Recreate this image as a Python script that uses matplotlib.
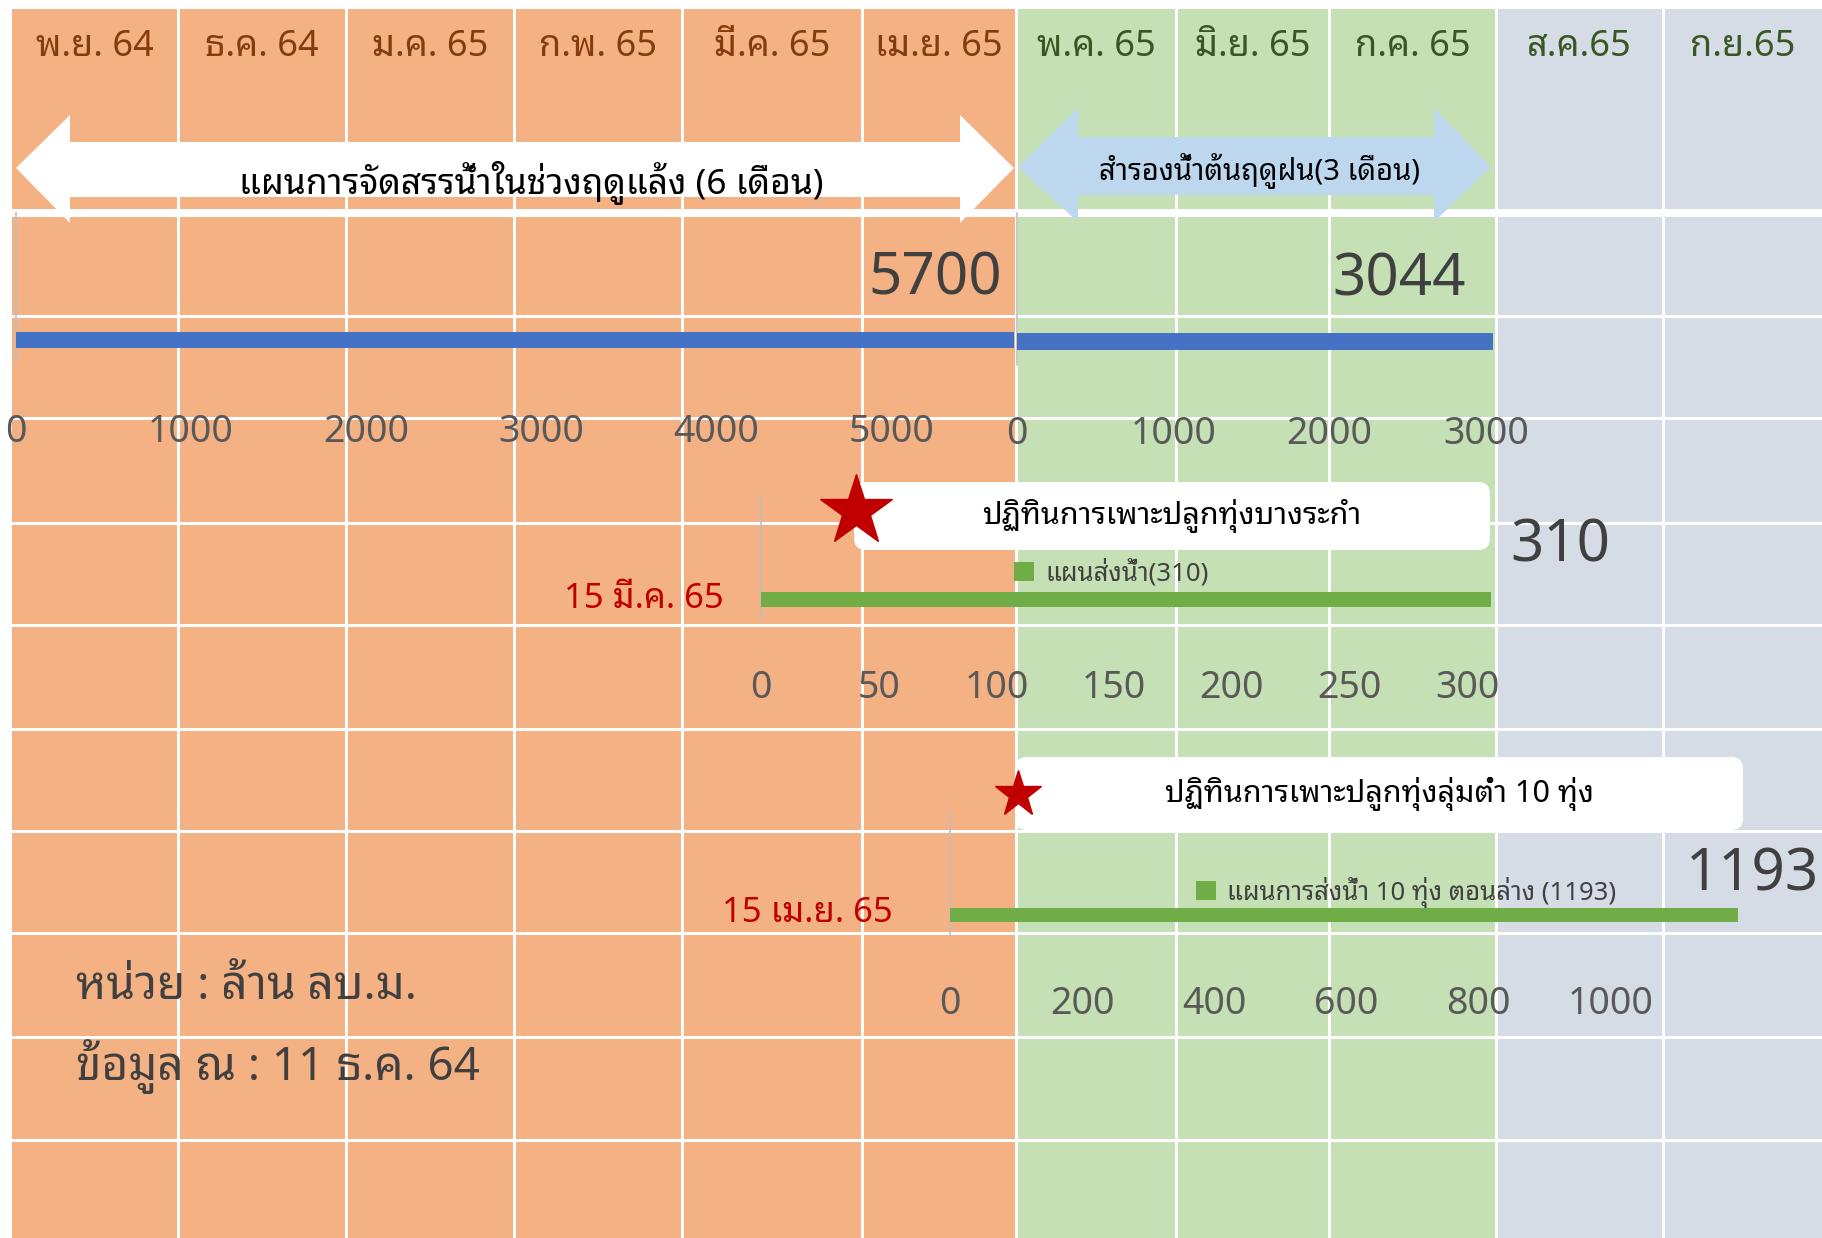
import matplotlib
matplotlib.use('Agg')
import matplotlib.pyplot as plt
from matplotlib import font_manager as fm
from matplotlib.ft2font import FT2Font
from matplotlib.patches import Rectangle, Polygon, FancyBboxPatch

# ---- data ----
months = ['พ.ย. 64', 'ธ.ค. 64', 'ม.ค. 65', 'ก.พ. 65', 'มี.ค. 65', 'เม.ย. 65',
          'พ.ค. 65', 'มิ.ย. 65', 'ก.ค. 65', 'ส.ค.65', 'ก.ย.65']
season = ['dry'] * 6 + ['wet'] * 3 + ['late'] * 2

dry_plan = 5700          # แผนการจัดสรรน้ำฤดูแล้ง
wet_reserve = 3044       # สำรองน้ำต้นฤดูฝน
bangrakam_plan = 310     # ทุ่งบางระกำ
lowland_plan = 1193      # 10 ทุ่ง ตอนล่าง

dry_ticks = [0, 1000, 2000, 3000, 4000, 5000]
wet_ticks = [0, 1000, 2000, 3000]
bangrakam_ticks = [0, 50, 100, 150, 200, 250, 300]
lowland_ticks = [0, 200, 400, 600, 800, 1000]

bangrakam_start = '15 มี.ค. 65'
lowland_start = '15 เม.ย. 65'
bangrakam_legend = 'แผนส่งน้ำ(310)'
lowland_legend = 'แผนการส่งน้ำ 10 ทุ่ง ตอนล่าง (1193)'


def pick_thai_font():
    names = set()
    for entry in fm.fontManager.ttflist:
        try:
            if 0x0E01 in FT2Font(entry.fname).get_charmap():
                names.add(entry.name)
        except Exception:
            pass
    for pref in ['Noto Sans Thai Looped', 'Noto Sans Thai', 'Noto Sans Thai UI',
                 'Loma', 'Garuda', 'Sawasdee', 'Laksaman', 'Tlwg Typo']:
        if pref in names:
            return pref
    return sorted(names)[0] if names else 'DejaVu Sans'


THAI = pick_thai_font()
FAM = [THAI, 'DejaVu Sans']
plt.rcParams['font.family'] = FAM

W, H = 1822, 1238
PX = 0.72  # points per pixel at dpi 100

fig = plt.figure(figsize=(W / 100, H / 100), dpi=100)
base = fig.add_axes([0, 0, 1, 1])
base.set_xlim(0, W)
base.set_ylim(H, 0)
base.axis('off')

# month columns
col_edges = [12, 178, 346, 514, 682, 862, 1016, 1176, 1329, 1496, 1663, 1822]
fills = {'dry': '#F4B183', 'wet': '#C5E0B4', 'late': '#D6DCE5'}
text_cols = {'dry': '#843C0C', 'wet': '#385723', 'late': '#385723'}
for i, m in enumerate(months):
    x0, x1 = col_edges[i], col_edges[i + 1]
    base.add_patch(Rectangle((x0, 9), x1 - x0, H - 9, fc=fills[season[i]], ec='none', zorder=0))
    base.text((x0 + x1) / 2, 47, m, ha='center', va='center', fontsize=26,
              color=text_cols[season[i]], zorder=3)

for x in col_edges[1:-1]:
    base.plot([x, x], [9, H], color='white', lw=3 * PX, zorder=1)
for y in [316, 418, 523, 625, 729, 831, 933, 1037, 1140]:
    base.plot([12, W], [y, y], color='white', lw=3 * PX, zorder=1)
base.plot([12, W], [213, 213], color='white', lw=8 * PX, zorder=1)

# season arrows
base.add_patch(Polygon([(16, 168), (70, 115), (70, 142), (960, 142), (960, 115), (1014, 168),
                        (960, 223), (960, 197), (70, 197), (70, 223)],
                       closed=True, fc='white', ec='none', zorder=2))
base.text(531, 183, 'แผนการจัดสรรน้ำในช่วงฤดูแล้ง (6 เดือน)', ha='center', va='center',
          fontsize=25.5, color='black', zorder=3)
base.add_patch(Polygon([(1018, 167), (1078, 108), (1078, 137), (1434, 137), (1434, 108), (1491, 167),
                        (1434, 222), (1434, 195), (1078, 195), (1078, 222)],
                       closed=True, fc='#BDD7EE', ec='none', zorder=2))
base.text(1260, 171, 'สำรองน้ำต้นฤดูฝน(3 เดือน)', ha='center', va='center',
          fontsize=21, color='black', zorder=3)

# calendar banners
for (x0, y0, x1, y1), label, star, ms in [
        ((854, 482, 1490, 550), 'ปฏิทินการเพาะปลูกทุ่งบางระกำ', (856, 511), 54),
        ((1015, 757, 1743, 830), 'ปฏิทินการเพาะปลูกทุ่งลุ่มต่ำ 10 ทุ่ง', (1018, 794), 35)]:
    r = 12
    base.add_patch(FancyBboxPatch((x0 + r, y0 + r), x1 - x0 - 2 * r, y1 - y0 - 2 * r,
                                  boxstyle='round,pad=%d' % r, fc='white', ec='none', zorder=4))
    base.text((x0 + x1) / 2, (y0 + y1) / 2, label, ha='center', va='center',
              fontsize=22, color='black', zorder=5)
    base.plot(*star, marker='*', ms=ms, color='#C00000', mec='#C00000', zorder=6)

base.text(76, 987, 'หน่วย : ล้าน ลบ.ม.', ha='left', va='center', fontsize=33, color='#404040')
base.text(76, 1067, 'ข้อมูล ณ : 11 ธ.ค. 64', ha='left', va='center', fontsize=33, color='#404040')


def bar_axes(left, right, top, bottom, value, ticks, bar_y, bar_h, color):
    ax = fig.add_axes([left / W, 1 - bottom / H, (right - left) / W, (bottom - top) / H])
    ax.set_xlim(0, value)
    ax.set_ylim(0, bottom - top)
    ax.patch.set_alpha(0)
    bars = ax.barh(bar_y, value, height=bar_h, color=color, zorder=3)
    for s in ['top', 'right', 'bottom']:
        ax.spines[s].set_visible(False)
    ax.spines['left'].set_color('#BFBFBF')
    ax.spines['left'].set_linewidth(1.2)
    ax.set_yticks([])
    ax.set_xticks(ticks)
    ax.set_xticklabels([str(t) for t in ticks])
    ax.tick_params(axis='x', length=0, pad=36, labelsize=27, labelcolor='#595959')
    for lab in ax.get_xticklabels():
        lab.set_clip_on(False)
    return ax, bars


def legend_for(ax, bars, label, anchor):
    ax.legend([bars], [label], loc='center left', bbox_to_anchor=anchor,
              bbox_transform=base.transData, frameon=False, fontsize=18.5, borderpad=0,
              borderaxespad=0, handlelength=0.78, handleheight=0.78, handletextpad=0.43,
              labelcolor='#404040')


ax1, _ = bar_axes(16, 1014, 213, 363, dry_plan, dry_ticks, 23, 16, '#4472C4')
ax1.annotate(str(dry_plan), xy=(dry_plan, 23), xytext=(-12 * PX, 61 * PX),
             textcoords='offset points', ha='right', va='center', fontsize=42, color='#404040')

ax2, _ = bar_axes(1017, 1493, 213, 365, wet_reserve, wet_ticks, 23.5, 17, '#4472C4')
ax2.annotate(str(wet_reserve), xy=(wet_reserve, 23.5), xytext=(-27 * PX, 62 * PX),
             textcoords='offset points', ha='right', va='center', fontsize=42, color='#404040')

ax3, b3 = bar_axes(761, 1491, 497, 619, bangrakam_plan, bangrakam_ticks, 19.5, 15, '#70AD47')
ax3.annotate(str(bangrakam_plan), xy=(bangrakam_plan, 19.5), xytext=(19 * PX, 53 * PX),
             textcoords='offset points', ha='left', va='center', fontsize=42, color='#404040')
ax3.annotate(bangrakam_start, xy=(0, 19.5), xytext=(-37 * PX, 0),
             textcoords='offset points', ha='right', va='center', fontsize=25, color='#C00000')
legend_for(ax3, b3, bangrakam_legend, (1014, 573))

ax4, b4 = bar_axes(950, 1738, 812, 935, lowland_plan, lowland_ticks, 20, 14, '#70AD47')
ax4.annotate(str(lowland_plan), xy=(lowland_plan, 20), xytext=(-52 * PX, 40 * PX),
             textcoords='offset points', ha='left', va='center', fontsize=42, color='#404040')
ax4.annotate(lowland_start, xy=(0, 20), xytext=(-57 * PX, 2 * PX),
             textcoords='offset points', ha='right', va='center', fontsize=25, color='#C00000')
legend_for(ax4, b4, lowland_legend, (1196, 892))

fig.savefig('out.png', dpi=100)
